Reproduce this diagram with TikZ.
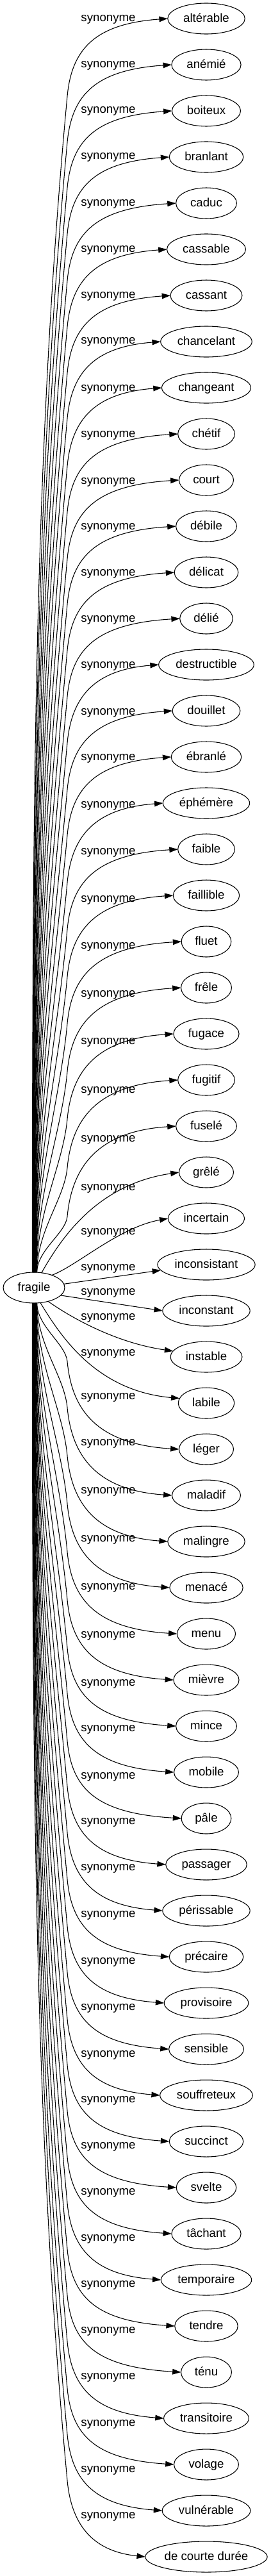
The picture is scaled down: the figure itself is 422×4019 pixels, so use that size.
\documentclass[tikz,border=0pt]{standalone}
\usepackage{fontspec}
\setmainfont{Liberation Sans}
\usetikzlibrary{arrows.meta,shapes.geometric}
\begin{document}
\begin{tikzpicture}[x=0.75pt,y=-0.75pt,
  tgt/.style={draw, ellipse, line width=0.8pt, inner sep=0pt, outer sep=0pt, minimum height=36pt, text height=11pt, text depth=3pt, font=\fontsize{14pt}{17pt}\selectfont},
  lbl/.style={inner sep=0pt, font=\fontsize{14pt}{17pt}\selectfont},
  syn/.style={line width=0.8pt, -{Triangle[length=10pt,width=6.5pt]}}]
\fontsize{14pt}{17pt}\selectfont
\fill[white] (0,0) rectangle (422,4019);
\useasboundingbox (0,0) rectangle (422,4019);
\pgfmathsetmacro\fw{1.18*width("fragile")+27}
\node[tgt, minimum width=\fw pt] (fragile) at (53,2009) {fragile};
\foreach \i/\w in {1/altérable,2/anémié,3/boiteux,4/branlant,5/caduc,6/cassable,7/cassant,8/chancelant,9/changeant,10/chétif,11/court,12/débile,13/délicat,14/délié,15/destructible,16/douillet,17/ébranlé,18/éphémère,19/faible,20/faillible,21/fluet,22/frêle,23/fugace,24/fugitif,25/fuselé,26/grêlé,27/incertain,28/inconsistant,29/inconstant,30/instable,31/labile,32/léger,33/maladif,34/malingre,35/menacé,36/menu,37/mièvre,38/mince,39/mobile,40/pâle,41/passager,42/périssable,43/précaire,44/provisoire,45/sensible,46/souffreteux,47/succinct,48/svelte,49/tâchant,50/temporaire,51/tendre,52/ténu,53/transitoire,54/volage,55/vulnérable,56/de courte durée}{
  \pgfmathsetmacro\yt{29+72*(\i-1)}
  \pgfmathsetmacro\mw{1.18*width("\w")+27}
  \node[tgt, minimum width=\mw pt] (n\i) at (322,\yt) {\w};
}
\foreach \i/\yl in {1/30,2/102,3/173,4/245,5/318,6/390,7/462,8/533,9/607,10/679,11/752,12/823,13/895,14/967,15/1039,16/1112,17/1183,18/1257,19/1330,20/1404,21/1477,22/1552,23/1626,24/1702,25/1778,26/1854,27/1923,28/1979,29/2017,30/2056,31/2112,32/2180,33/2252,34/2327,35/2402,36/2477,37/2552,38/2627,39/2698,40/2772,41/2843,42/2915,43/2988,44/3061,45/3133,46/3206,47/3277,48/3349,49/3421,50/3493,51/3565,52/3637,53/3709,54/3782,55/3854,56/3926}{
  \node[lbl] (l\i) at (169,\yl) {synonyme};
}
% upper strands
\foreach \i/\yl in {1/30,2/102,3/173,4/245,5/318,6/390,7/462,8/533,9/607,10/679,11/752,12/823,13/895,14/967,15/1039,16/1112,17/1183,18/1257,19/1330,20/1404,21/1477,22/1552,23/1626,24/1702,25/1778}{
  \pgfmathsetmacro\yt{29+72*(\i-1)}
  \pgfmathsetmacro\yP{\yl+120}
  \pgfmathsetmacro\D{1985-\yP}
  \pgfmathsetmacro\th{96-0.7*(\i-1)}
  \pgfmathsetmacro\ca{-0.4*\D}
  \pgfmathsetmacro\cbx{-0.028*\D}
  \pgfmathsetmacro\cby{0.3*\D}
  \pgfmathsetmacro\ya{\yl+45}
  \pgfmathsetmacro\yb{\yt+8}
  \draw[syn] (fragile.\th) .. controls +(0,\ca) and +(\cbx,\cby) .. (105,\yP) .. controls (112,\ya) and (150,\yb) .. (n\i.west);
}
% lower strands
\foreach \i/\yl in {32/2180,33/2252,34/2327,35/2402,36/2477,37/2552,38/2627,39/2698,40/2772,41/2843,42/2915,43/2988,44/3061,45/3133,46/3206,47/3277,48/3349,49/3421,50/3493,51/3565,52/3637,53/3709,54/3782,55/3854,56/3926}{
  \pgfmathsetmacro\yt{29+72*(\i-1)}
  \pgfmathsetmacro\yP{\yl-56}
  \pgfmathsetmacro\D{\yP-2033}
  \pgfmathsetmacro\th{-96+0.7*(56-\i)}
  \pgfmathsetmacro\ca{0.4*\D}
  \pgfmathsetmacro\cbx{-0.028*\D}
  \pgfmathsetmacro\cby{-0.3*\D}
  \pgfmathsetmacro\ya{\yl+19}
  \pgfmathsetmacro\yb{\yt-8}
  \draw[syn] (fragile.\th) .. controls +(0,\ca) and +(\cbx,\cby) .. (105,\yP) .. controls (112,\ya) and (150,\yb) .. (n\i.west);
}
% edges near the centre
\draw[syn] (fragile.63) .. controls (95,1933) and (150,1848) .. (n26.west);
\draw[syn] (fragile.35) .. controls (120,1975) and (185,1915) .. (n27.west);
\draw[syn] (fragile.7) -- (n28.187);
\draw[syn] (fragile.-16) -- (n29.west);
\draw[syn] (fragile.-44) .. controls (110,2055) and (180,2095) .. (n30.170);
\draw[syn] (fragile.-67) .. controls (95,2085) and (150,2170) .. (n31.170);
\end{tikzpicture}
\end{document}
